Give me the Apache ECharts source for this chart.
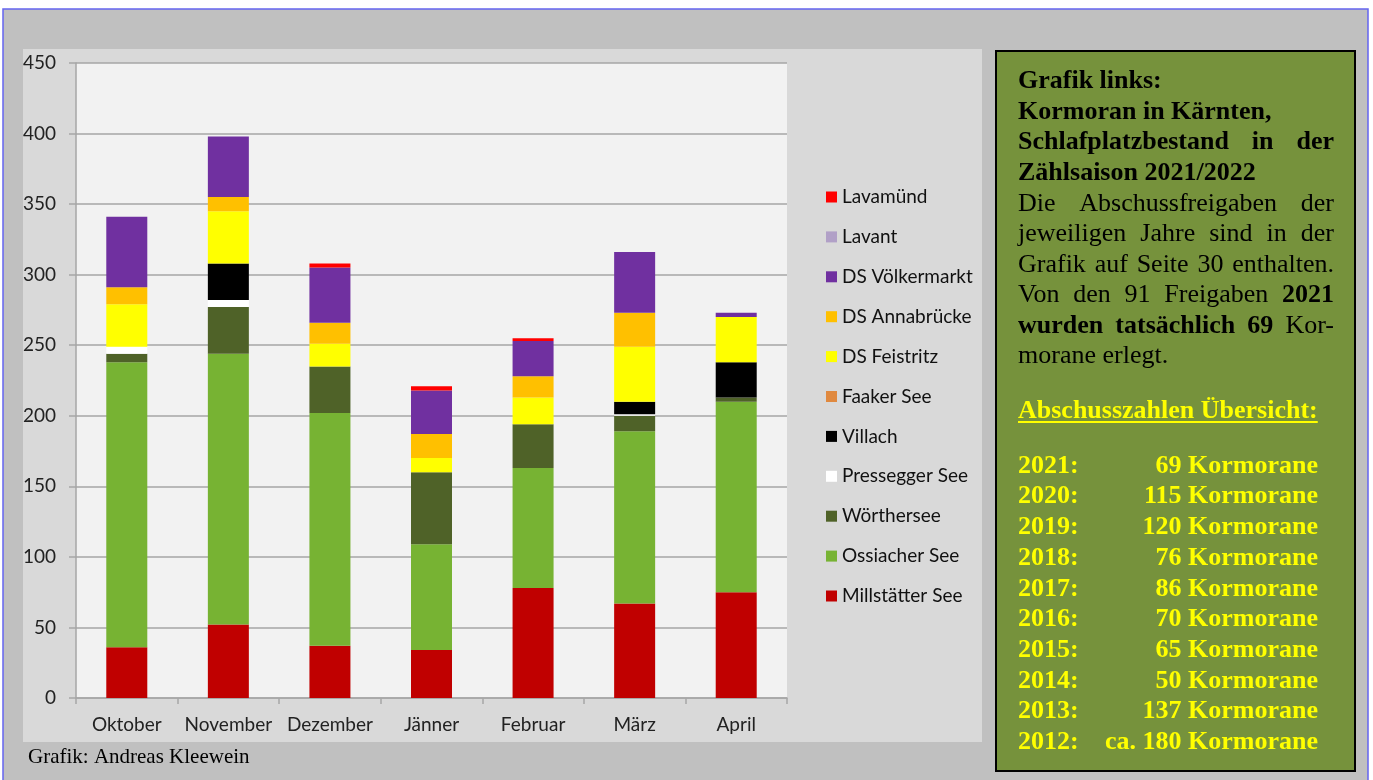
<!DOCTYPE html>
<html>
<head>
<meta charset="utf-8">
<title>Kormoran in Kärnten</title>
<script src="https://cdn.jsdelivr.net/npm/echarts@6/dist/echarts.min.js"></script>
<style>
  html, body { margin: 0; padding: 0; background: #fff; }
  #chart { width: 1373px; height: 780px; }
</style>
</head>
<body>
<div id="chart"></div>
<script>
// Schlafplatzbestand pro Monat, Zählsaison 2021/2022
const months = ['Oktober', 'November', 'Dezember', 'Jänner', 'Februar', 'März', 'April'];
const millstaetterSee = [36, 52, 37, 34, 78, 67, 75];
const ossiacherSee = [202, 192, 165, 75, 85, 122, 135];
const woerthersee = [6, 33, 33, 51, 31, 11, 3];
const presseggerSee = [5, 5, 0, 0, 0, 1, 0];
const villach = [0, 26, 0, 0, 0, 9, 25];
const faakerSee = [0, 0, 0, 0, 0, 0, 0];
const dsFeistritz = [30, 37, 16, 10, 19, 39, 32];
const dsAnnabruecke = [12, 10, 15, 17, 15, 24, 0];
const dsVoelkermarkt = [50, 43, 39, 31, 25, 43, 3];
const lavant = [0, 0, 0, 0, 0, 0, 0];
const lavamuend = [0, 0, 3, 3, 2, 0, 0];

// Abschusszahlen
const shotYears = ['2021:', '2020:', '2019:', '2018:', '2017:', '2016:', '2015:', '2014:', '2013:', '2012:'];
const shotCounts = ['69', '115', '120', '76', '86', '70', '65', '50', '137', 'ca. 180'];

// bottom to top
const seriesDefs = [
  { name: 'Millstätter See', data: millstaetterSee, color: '#C00000' },
  { name: 'Ossiacher See', data: ossiacherSee, color: '#77B333' },
  { name: 'Wörthersee', data: woerthersee, color: '#4F6228' },
  { name: 'Pressegger See', data: presseggerSee, color: '#FFFFFF' },
  { name: 'Villach', data: villach, color: '#000000' },
  { name: 'Faaker See', data: faakerSee, color: '#E0893F' },
  { name: 'DS Feistritz', data: dsFeistritz, color: '#FFFF00' },
  { name: 'DS Annabrücke', data: dsAnnabruecke, color: '#FFC000' },
  { name: 'DS Völkermarkt', data: dsVoelkermarkt, color: '#7030A0' },
  { name: 'Lavant', data: lavant, color: '#B1A0C7' },
  { name: 'Lavamünd', data: lavamuend, color: '#FF0000' }
];

const serif = '"Liberation Serif", "Times New Roman", serif';
const ctx = document.createElement('canvas').getContext('2d');
function textWidth(s, bold) {
  ctx.font = (bold ? 'bold ' : '') + '26px ' + serif;
  return ctx.measureText(s).width;
}

// text panel on the right
const panelLeft = 1018, panelRight = 1334;
const panelLines = [
  { y: 81, just: false, words: [['Grafik', 1], ['links:', 1]] },
  { y: 112, just: false, words: [['Kormoran', 1], ['in', 1], ['Kärnten,', 1]] },
  { y: 142, just: true, words: [['Schlafplatzbestand', 1], ['in', 1], ['der', 1]] },
  { y: 173, just: false, words: [['Zählsaison', 1], ['2021/2022', 1]] },
  { y: 204, just: true, words: [['Die', 0], ['Abschussfreigaben', 0], ['der', 0]] },
  { y: 234, just: true, words: [['jeweiligen', 0], ['Jahre', 0], ['sind', 0], ['in', 0], ['der', 0]] },
  { y: 265, just: true, words: [['Grafik', 0], ['auf', 0], ['Seite', 0], ['30', 0], ['enthalten.', 0]] },
  { y: 295, just: true, words: [['Von', 0], ['den', 0], ['91', 0], ['Freigaben', 0], ['2021', 1]] },
  { y: 326, just: true, words: [['wurden', 1], ['tatsächlich', 1], ['69', 1], ['Kor-', 0]] },
  { y: 356, just: false, words: [['morane', 0], ['erlegt.', 0]] }
];

const graphics = [
  // page frame
  { type: 'rect', z: -10, shape: { x: 3, y: 9, width: 1365, height: 790 },
    style: { fill: '#C0C0C0', stroke: '#6464F0', lineWidth: 1.5 } },
  // chart area
  { type: 'rect', z: -9, shape: { x: 23, y: 49, width: 959, height: 693 },
    style: { fill: '#D9D9D9' } },
  // plot area
  { type: 'rect', z: -8, shape: { x: 76, y: 63, width: 711, height: 635 },
    style: { fill: '#F2F2F2' } },
  { type: 'text', z: 10, left: 28, top: 747,
    style: { text: 'Grafik: Andreas Kleewein', font: '21px ' + serif, fill: '#000' } },
  // green panel
  { type: 'rect', z: -9, shape: { x: 996, y: 51, width: 359, height: 720 },
    style: { fill: '#76923C', stroke: '#000', lineWidth: 2 } }
];

panelLines.forEach((line) => {
  const widths = line.words.map((w) => textWidth(w[0], w[1]));
  const total = widths.reduce((a, b) => a + b, 0);
  let gap = textWidth(' ', false);
  if (line.just && line.words.length > 1) {
    gap = (panelRight - panelLeft - total) / (line.words.length - 1);
  }
  let x = panelLeft;
  line.words.forEach((w, i) => {
    graphics.push({
      type: 'text', z: 10, x: x, y: line.y,
      style: { text: w[0], font: (w[1] ? 'bold ' : '') + '26px ' + serif,
        fill: '#000', verticalAlign: 'middle', align: 'left' }
    });
    x += widths[i] + gap;
  });
});

// heading of the list
const heading = 'Abschusszahlen Übersicht:';
graphics.push({
  type: 'text', z: 10, x: panelLeft, y: 411,
  style: { text: heading, font: 'bold 26px ' + serif, fill: '#FFFF00', verticalAlign: 'middle' }
});
graphics.push({
  type: 'line', z: 10,
  shape: { x1: panelLeft, y1: 422, x2: panelLeft + textWidth(heading, true), y2: 422 },
  style: { stroke: '#FFFF00', lineWidth: 2 }
});

shotYears.forEach((yr, i) => {
  const y = 466 + i * 30.7;
  graphics.push({
    type: 'text', z: 10, x: panelLeft, y: y,
    style: { text: yr, font: 'bold 26px ' + serif, fill: '#FFFF00', verticalAlign: 'middle' }
  });
  graphics.push({
    type: 'text', z: 10, x: 1318, y: y,
    style: { text: shotCounts[i] + ' Kormorane', font: 'bold 26px ' + serif,
      fill: '#FFFF00', verticalAlign: 'middle', align: 'right' }
  });
});

const chart = echarts.init(document.getElementById('chart'));
const option = {
  animation: false,
  textStyle: { fontFamily: 'Lato, sans-serif' },
  graphic: graphics,
  grid: { left: 76, top: 63, right: 586, bottom: 82, containLabel: false },
  legend: {
    orient: 'vertical',
    left: 821,
    top: 182,
    icon: 'rect',
    itemWidth: 11,
    itemHeight: 11,
    itemGap: 19.9,
    textStyle: { fontSize: 19, lineHeight: 20, color: '#111', fontFamily: 'Lato' },
    data: seriesDefs.map((s) => s.name).reverse()
  },
  xAxis: {
    type: 'category',
    data: months,
    axisLine: { lineStyle: { color: '#A6A6A6', width: 1.5 } },
    axisTick: { show: true, length: 6, lineStyle: { color: '#A6A6A6', width: 1.5 } },
    axisLabel: { interval: 0, fontSize: 19, margin: 17, color: '#222' }
  },
  yAxis: {
    type: 'value',
    min: 0,
    max: 450,
    interval: 50,
    axisLine: { show: true, lineStyle: { color: '#A6A6A6', width: 1.5 } },
    axisTick: { show: true, length: 7, inside: false, lineStyle: { color: '#A6A6A6', width: 1.5 } },
    axisLabel: { fontSize: 19, margin: 20, color: '#222' },
    splitLine: { lineStyle: { color: '#A6A6A6', width: 1.5 } }
  },
  series: seriesDefs.map((s) => ({
    name: s.name,
    type: 'bar',
    stack: 'total',
    barWidth: 41,
    data: s.data,
    itemStyle: { color: s.color }
  }))
};
chart.setOption(option);
</script>
</body>
</html>
